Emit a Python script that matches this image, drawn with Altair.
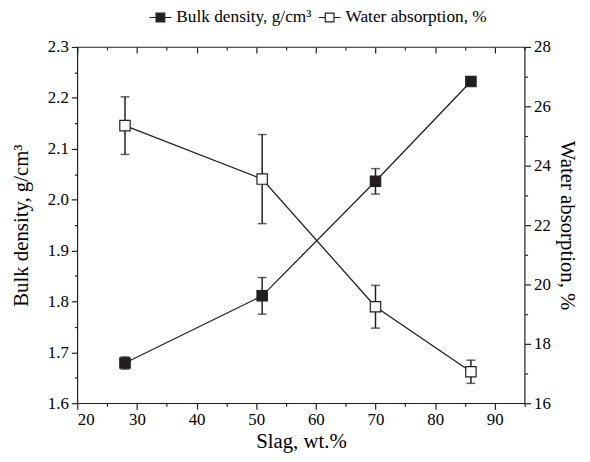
import altair as alt
import pandas as pd

# ---- data ----
slag = [28, 51, 70, 86]
bulk_density = [1.679, 1.811, 2.036, 2.232]
bulk_err = [0.012, 0.036, 0.025, 0.0]
water_abs = [25.35, 23.55, 19.25, 17.06]
water_err = [0.97, 1.50, 0.72, 0.39]
series_names = ["Bulk density, g/cm³", "Water absorption, %"]

x_ticks = [20, 25, 30, 35, 40, 45, 50, 55, 60, 65, 70, 75, 80, 85, 90, 95]
bulk_ticks = [1.6, 1.65, 1.7, 1.75, 1.8, 1.85, 1.9, 1.95, 2.0, 2.05, 2.1, 2.15, 2.2, 2.25, 2.3]
water_ticks = [16, 17, 18, 19, 20, 21, 22, 23, 24, 25, 26, 27, 28]

INK = "#231f20"
FONT = "Liberation Serif"
W, H = 452, 360

bulk_df = pd.DataFrame({
    "slag": slag,
    "value": bulk_density,
    "lo": [v - e for v, e in zip(bulk_density, bulk_err)],
    "hi": [v + e for v, e in zip(bulk_density, bulk_err)],
    "series": series_names[0],
})
water_df = pd.DataFrame({
    "slag": slag,
    "value": water_abs,
    "lo": [v - e for v, e in zip(water_abs, water_err)],
    "hi": [v + e for v, e in zip(water_abs, water_err)],
    "series": series_names[1],
})
frame_df = pd.DataFrame({"slag": [x_ticks[0], x_ticks[-1]]})

xscale = alt.Scale(domain=[20, 95], nice=False, zero=False)
major10 = "datum.value % 10 === 0"
font_kw = dict(labelFont=FONT, titleFont=FONT, labelFontSize=17, titleFontSize=21,
               labelColor="black", titleColor="black", titleFontWeight="normal",
               tickColor=INK, tickWidth=1.2)

x_bottom_axis = alt.Axis(
    values=x_ticks, title="Slag, wt.%", grid=False, domain=False,
    labelExpr=f"{major10} ? datum.label : ''",
    tickSize={"condition": {"test": major10, "value": 6}, "value": 3},
    labelOverlap=False, labelPadding=3, titlePadding=3, **font_kw,
)
x_top_axis = alt.Axis(
    values=x_ticks, title=None, grid=False, domain=False, labels=False,
    orient="bottom", offset=-H,
    tickSize={"condition": {"test": major10, "value": 6}, "value": 3},
    tickColor=INK, tickWidth=1.2,
)

bulk_test = "abs(datum.value*10 - round(datum.value*10)) < 0.0001"
bulk_axis = alt.Axis(
    values=bulk_ticks, title=series_names[0], grid=False, domain=False, orient="left",
    labelExpr=f"{bulk_test} ? format(datum.value, '.1f') : ''",
    tickSize={"condition": {"test": bulk_test, "value": 6}, "value": 3},
    labelOverlap=False, labelPadding=3, titlePadding=16, **font_kw,
)
water_test = "datum.value % 2 === 0"
water_axis = alt.Axis(
    values=water_ticks, title=series_names[1], grid=False, domain=False, orient="right",
    labelExpr=f"{water_test} ? datum.label : ''",
    tickSize={"condition": {"test": water_test, "value": 6}, "value": 3},
    labelOverlap=False, labelPadding=3, titlePadding=6, **font_kw,
)

legend_path = "M-1,0H-0.4M0.4,0H1M-0.4,-0.4H0.4V0.4H-0.4Z"
legend = alt.Legend(
    title=None, orient="none", legendX=72, legendY=-42, direction="horizontal",
    symbolType=legend_path, symbolSize=480, symbolStrokeColor=INK,
    symbolStrokeWidth=1.2, symbolOpacity=1, labelFont=FONT, labelFontSize=17.5,
    labelColor="black", columnPadding=4, labelOffset=4,
)
fill_scale = alt.Scale(domain=series_names, range=[INK, "white"])


def series_layer(df, yscale, yaxis, xaxis):
    base = alt.Chart(df)
    x = alt.X("slag:Q", scale=xscale, axis=xaxis)
    rules = base.mark_rule(color=INK, strokeWidth=1.5).encode(
        x=x,
        y=alt.Y("lo:Q", scale=yscale, axis=yaxis),
        y2="hi:Q",
    )
    cap_lo = base.mark_tick(orient="horizontal", size=9, thickness=1.5, color=INK).encode(
        x=x, y=alt.Y("lo:Q", scale=yscale, axis=yaxis)
    )
    cap_hi = base.mark_tick(orient="horizontal", size=9, thickness=1.5, color=INK).encode(
        x=x, y=alt.Y("hi:Q", scale=yscale, axis=yaxis)
    )
    line = base.mark_line(color=INK, strokeWidth=1.3).encode(
        x=x, y=alt.Y("value:Q", scale=yscale, axis=yaxis)
    )
    pts = base.mark_square(size=110, stroke=INK, strokeWidth=1.2, opacity=1, filled=True).encode(
        x=x,
        y=alt.Y("value:Q", scale=yscale, axis=yaxis),
        fill=alt.Fill("series:N", scale=fill_scale, legend=legend),
    )
    return alt.layer(rules, cap_lo, cap_hi, line, pts)


bulk_layer = series_layer(
    bulk_df, alt.Scale(domain=[1.6, 2.3], nice=False, zero=False), bulk_axis, x_bottom_axis
)
water_layer = series_layer(
    water_df, alt.Scale(domain=[16, 28], nice=False, zero=False), water_axis, None
)
top_ticks = alt.Chart(frame_df).mark_point(opacity=0).encode(
    x=alt.X("slag:Q", scale=xscale, axis=x_top_axis)
)

chart = (
    alt.layer(bulk_layer, water_layer, top_ticks)
    .resolve_scale(y="independent")
    .resolve_axis(x="independent", y="independent")
    .properties(
        width=W, height=H,
        autosize=alt.AutoSizeParams(type="none"),
        padding={"left": 70, "top": 37, "right": 58, "bottom": 55},
        background="white",
    )
    .configure(font=FONT)
    .configure_view(stroke=INK, strokeWidth=1.2)
    .configure_axis(**font_kw)
    .configure_legend(labelFont=FONT)
)

chart.save("out.html", embed_options={"renderer": "svg", "actions": False})
